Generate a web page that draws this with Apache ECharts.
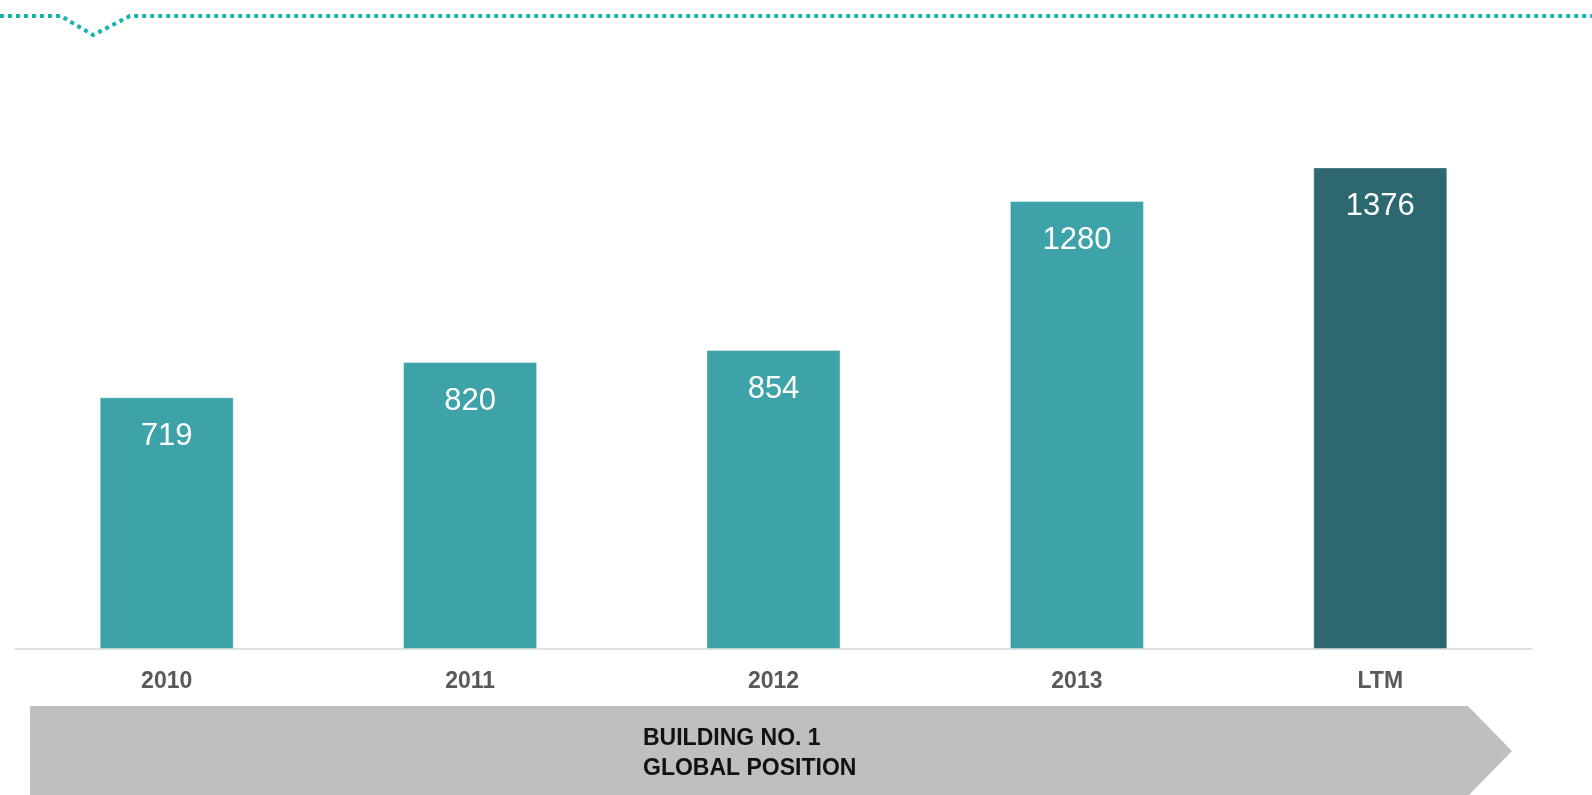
<!DOCTYPE html>
<html>
<head>
<meta charset="utf-8">
<script src="https://cdn.jsdelivr.net/npm/echarts@6/dist/echarts.min.js"></script>
<style>
html,body{margin:0;padding:0;background:#fff;}
#chart{width:1592px;height:795px;}
</style>
</head>
<body>
<div id="chart"></div>
<script>
const categories = ['2010', '2011', '2012', '2013', 'LTM'];
const values = [719, 820, 854, 1280, 1376];
const barColors = ['#3DA3A8', '#3DA3A8', '#3DA3A8', '#3DA3A8', '#2D6870'];
const bannerLines = ['BUILDING NO. 1', 'GLOBAL POSITION'];

const chart = echarts.init(document.getElementById('chart'));
chart.setOption({
  backgroundColor: '#ffffff',
  animation: false,
  grid: { left: 15, right: 60, top: 89, bottom: 146, containLabel: false },
  xAxis: {
    type: 'category',
    data: categories,
    axisLine: { show: true, lineStyle: { color: '#D6D6D6', width: 1.5 } },
    axisTick: { show: false },
    axisLabel: {
      color: '#595959', fontWeight: 'bold', fontSize: 23,
      fontFamily: 'Liberation Sans, Arial, sans-serif', margin: 21
    }
  },
  yAxis: { type: 'value', min: 0, max: 1600, show: false, splitLine: { show: false } },
  series: [{
    type: 'bar',
    barWidth: 134,
    data: values.map((v, i) => ({ value: v, itemStyle: { color: barColors[i] } })),
    itemStyle: { borderColor: 'rgba(255,255,255,0.35)', borderWidth: 1 },
    label: {
      show: true, position: 'insideTop', distance: 24,
      color: '#ffffff', fontSize: 31,
      fontFamily: 'Liberation Sans, Arial, sans-serif'
    }
  }],
  graphic: [
    {
      type: 'polyline',
      shape: { points: [[0, 16], [61, 16], [93, 35], [130, 16], [1592, 16]] },
      style: { stroke: '#17B3AE', lineWidth: 4, lineDash: [4, 4], fill: null }
    },
    {
      type: 'polygon',
      shape: { points: [[30, 706], [1468, 706], [1512, 751], [1468, 796], [30, 796]] },
      style: { fill: '#BFBFBF' }
    },
    {
      type: 'text',
      left: 643, top: 724,
      style: {
        text: bannerLines.join('\n'),
        fill: '#111111', font: 'bold 23px "Liberation Sans", Arial, sans-serif',
        lineHeight: 30
      }
    }
  ]
});
</script>
</body>
</html>
